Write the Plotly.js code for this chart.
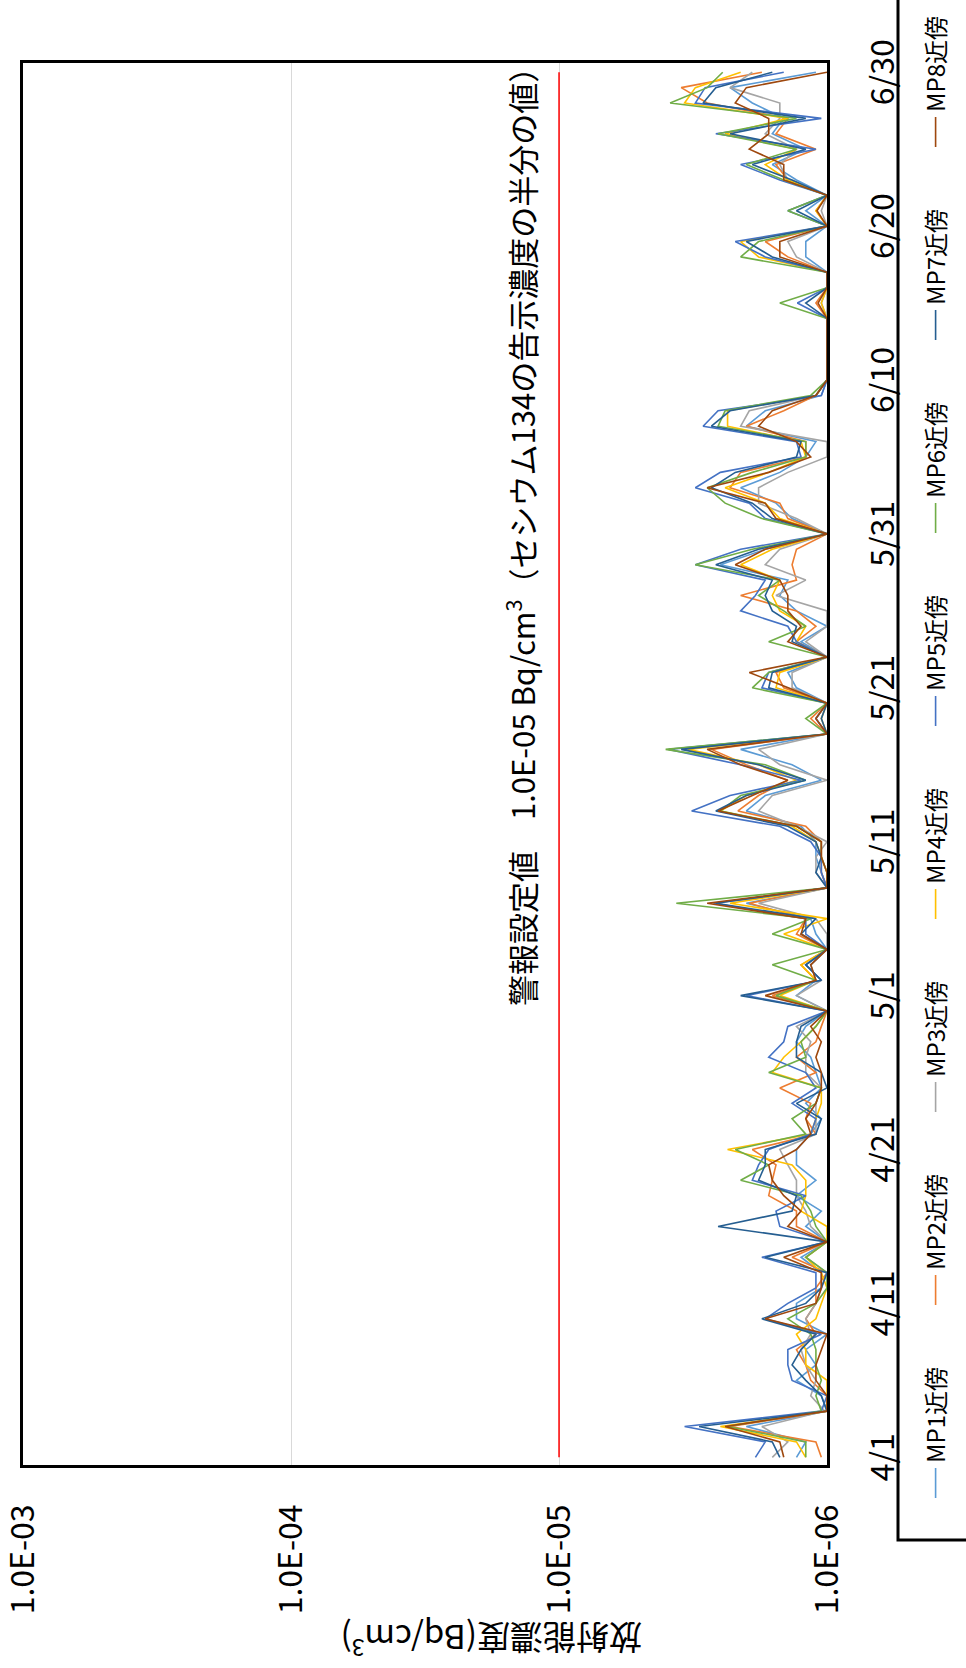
<!DOCTYPE html>
<html>
<head>
<meta charset="utf-8">
<script src="https://cdn.plot.ly/plotly-3.0.1.min.js"></script>
<style>
html,body{margin:0;padding:0;overflow:hidden;background:#fff;width:966px;height:1668px;}
#wrap{position:absolute;left:0;top:0;width:1668px;height:966px;transform-origin:0 0;transform:translateY(1668px) rotate(-90deg);}
</style>
</head>
<body>
<div id="wrap"></div>
<script>
// ---- categories (daily, 4/1 - 6/30) ----
const dates = [
'2021-04-01','2021-04-02','2021-04-03','2021-04-04','2021-04-05','2021-04-06','2021-04-07','2021-04-08','2021-04-09','2021-04-10',
'2021-04-11','2021-04-12','2021-04-13','2021-04-14','2021-04-15','2021-04-16','2021-04-17','2021-04-18','2021-04-19','2021-04-20',
'2021-04-21','2021-04-22','2021-04-23','2021-04-24','2021-04-25','2021-04-26','2021-04-27','2021-04-28','2021-04-29','2021-04-30',
'2021-05-01','2021-05-02','2021-05-03','2021-05-04','2021-05-05','2021-05-06','2021-05-07','2021-05-08','2021-05-09','2021-05-10',
'2021-05-11','2021-05-12','2021-05-13','2021-05-14','2021-05-15','2021-05-16','2021-05-17','2021-05-18','2021-05-19','2021-05-20',
'2021-05-21','2021-05-22','2021-05-23','2021-05-24','2021-05-25','2021-05-26','2021-05-27','2021-05-28','2021-05-29','2021-05-30',
'2021-05-31','2021-06-01','2021-06-02','2021-06-03','2021-06-04','2021-06-05','2021-06-06','2021-06-07','2021-06-08','2021-06-09',
'2021-06-10','2021-06-11','2021-06-12','2021-06-13','2021-06-14','2021-06-15','2021-06-16','2021-06-17','2021-06-18','2021-06-19',
'2021-06-20','2021-06-21','2021-06-22','2021-06-23','2021-06-24','2021-06-25','2021-06-26','2021-06-27','2021-06-28','2021-06-29',
'2021-06-30'];

const xTickVals = ['2021-04-01','2021-04-11','2021-04-21','2021-05-01','2021-05-11','2021-05-21','2021-05-31','2021-06-10','2021-06-20','2021-06-30'];
const xTickText = ['4/1','4/11','4/21','5/1','5/11','5/21','5/31','6/10','6/20','6/30'];
const yTickVals = [1e-6, 1e-5, 1e-4, 1e-3];
const yTickText = ['1.0E-06','1.0E-05','1.0E-04','1.0E-03'];

// ---- series values (Bq/cm3) ----
const MP1 = [1.3e-6,1.2e-6,2.0e-6,1.0e-6,1.05e-6,1.3e-6,1.1e-6,1.2e-6,1.0e-6,1.3e-6,1.3e-6,
1.05e-6,1.05e-6,1.25e-6,1.0e-6,1.2e-6,1.05e-6,1.3e-6,1.1e-6,1.3e-6,1.3e-6,
1.15e-6,1.05e-6,1.2e-6,1.05e-6,1.1e-6,1.15e-6,1.3e-6,1.2e-6,1.0e-6,1.3e-6,
1.1e-6,1.15e-6,1.0e-6,1.1e-6,1.15e-6,2.0e-6,1.0e-6,1.05e-6,1.1e-6,1.1e-6,
1.25e-6,2.0e-6,1.7e-6,1.05e-6,1.35e-6,2.1e-6,1.0e-6,1.1e-6,1.0e-6,1.3e-6,
1.4e-6,1.0e-6,1.25e-6,1.0e-6,1.3e-6,1.5e-6,1.4e-6,2.5e-6,1.7e-6,1.0e-6,
1.35e-6,1.55e-6,2.1e-6,1.5e-6,1.2e-6,1.1e-6,2.0e-6,1.7e-6,1.05e-6,1.0e-6,
1.0e-6,1.0e-6,1.0e-6,1.0e-6,1.05e-6,1.0e-6,1.0e-6,1.2e-6,1.2e-6,1.0e-6,
1.2e-6,1.0e-6,1.3e-6,1.6e-6,1.2e-6,1.6e-6,1.45e-6,1.9e-6,2.3e-6,1.1e-6];

const MP2 = [1.05e-6,1.1e-6,2.3e-6,1.0e-6,1.0e-6,1.15e-6,1.2e-6,1.3e-6,1.1e-6,1.2e-6,1.1e-6,
1.1e-6,1.0e-6,1.35e-6,1.0e-6,1.3e-6,1.3e-6,1.65e-6,1.6e-6,1.55e-6,1.9e-6,
1.1e-6,1.2e-6,1.15e-6,1.5e-6,1.1e-6,1.3e-6,1.1e-6,1.05e-6,1.0e-6,1.6e-6,
1.1e-6,1.25e-6,1.0e-6,1.3e-6,1.2e-6,1.95e-6,1.0e-6,1.05e-6,1.05e-6,1.05e-6,
1.2e-6,2.15e-6,1.8e-6,1.4e-6,2.0e-6,2.7e-6,1.0e-6,1.15e-6,1.0e-6,1.45e-6,
1.55e-6,1.0e-6,1.3e-6,1.1e-6,1.3e-6,2.1e-6,1.3e-6,1.35e-6,1.3e-6,1.0e-6,
1.4e-6,1.5e-6,2.3e-6,2.1e-6,1.2e-6,1.2e-6,2.0e-6,1.45e-6,1.1e-6,1.0e-6,
1.0e-6,1.0e-6,1.0e-6,1.0e-6,1.1e-6,1.0e-6,1.0e-6,1.4e-6,1.7e-6,1.0e-6,
1.1e-6,1.0e-6,1.4e-6,1.55e-6,1.1e-6,1.55e-6,1.4e-6,2.8e-6,3.5e-6,1.75e-6];

const MP3 = [1.6e-6,1.4e-6,1.75e-6,1.02e-6,1.15e-6,1.1e-6,1.2e-6,1.25e-6,1.15e-6,1.2e-6,1.1e-6,
1.05e-6,1.0e-6,1.2e-6,1.0e-6,1.15e-6,1.2e-6,1.3e-6,1.3e-6,1.4e-6,1.5e-6,
1.1e-6,1.1e-6,1.1e-6,1.05e-6,1.2e-6,1.2e-6,1.15e-6,1.3e-6,1.0e-6,1.3e-6,
1.05e-6,1.2e-6,1.0e-6,1.0e-6,1.1e-6,1.8e-6,1.0e-6,1.1e-6,1.1e-6,1.0e-6,
1.3e-6,1.8e-6,1.6e-6,1.0e-6,1.5e-6,1.8e-6,1.0e-6,1.1e-6,1.0e-6,1.35e-6,
1.35e-6,1.0e-6,1.2e-6,1.0e-6,1.0e-6,1.55e-6,1.2e-6,1.7e-6,1.5e-6,1.0e-6,
1.3e-6,1.8e-6,1.8e-6,1.4e-6,1.0e-6,1.0e-6,2.1e-6,1.95e-6,1.1e-6,1.0e-6,
1.0e-6,1.0e-6,1.0e-6,1.0e-6,1.0e-6,1.0e-6,1.0e-6,1.3e-6,1.4e-6,1.0e-6,
1.05e-6,1.0e-6,1.4e-6,1.5e-6,1.3e-6,1.7e-6,1.5e-6,1.5e-6,2.3e-6,1.9e-6];

const MP4 = [1.2e-6,1.3e-6,2.5e-6,1.0e-6,1.0e-6,1.0e-6,1.2e-6,1.2e-6,1.3e-6,1.1e-6,1.05e-6,
1.0e-6,1.05e-6,1.2e-6,1.0e-6,1.0e-6,1.25e-6,1.2e-6,1.2e-6,1.35e-6,2.35e-6,
1.15e-6,1.1e-6,1.05e-6,1.05e-6,1.6e-6,1.45e-6,1.25e-6,1.1e-6,1.0e-6,1.5e-6,
1.1e-6,1.25e-6,1.0e-6,1.45e-6,1.0e-6,2.3e-6,1.0e-6,1.0e-6,1.05e-6,1.1e-6,
1.35e-6,2.5e-6,2.0e-6,1.3e-6,1.8e-6,3.3e-6,1.0e-6,1.05e-6,1.0e-6,1.55e-6,
1.5e-6,1.0e-6,1.3e-6,1.2e-6,1.5e-6,1.6e-6,1.5e-6,2.1e-6,1.6e-6,1.0e-6,
1.5e-6,1.7e-6,2.4e-6,1.65e-6,1.2e-6,1.25e-6,2.35e-6,2.35e-6,1.1e-6,1.0e-6,
1.0e-6,1.0e-6,1.0e-6,1.0e-6,1.05e-6,1.0e-6,1.0e-6,1.8e-6,2.1e-6,1.0e-6,
1.1e-6,1.0e-6,1.4e-6,1.7e-6,1.3e-6,2.4e-6,1.4e-6,3.4e-6,3.1e-6,2.1e-6];

const MP5 = [1.85e-6,1.7e-6,3.4e-6,1.05e-6,1.0e-6,1.35e-6,1.4e-6,1.4e-6,1.05e-6,1.7e-6,1.4e-6,
1.1e-6,1.1e-6,1.75e-6,1.0e-6,1.5e-6,1.55e-6,1.2e-6,1.9e-6,1.8e-6,1.65e-6,
1.15e-6,1.1e-6,1.35e-6,1.1e-6,1.2e-6,1.65e-6,1.45e-6,1.4e-6,1.0e-6,2.0e-6,
1.05e-6,1.2e-6,1.0e-6,1.2e-6,1.2e-6,2.65e-6,1.0e-6,1.05e-6,1.05e-6,1.15e-6,
1.5e-6,3.2e-6,2.3e-6,1.25e-6,2.1e-6,3.9e-6,1.0e-6,1.1e-6,1.0e-6,1.75e-6,
1.65e-6,1.0e-6,1.3e-6,1.4e-6,2.1e-6,1.85e-6,1.7e-6,3.1e-6,2.1e-6,1.0e-6,
1.7e-6,1.95e-6,3.1e-6,2.5e-6,1.25e-6,1.3e-6,2.9e-6,2.55e-6,1.05e-6,1.0e-6,
1.0e-6,1.0e-6,1.0e-6,1.0e-6,1.29e-6,1.0e-6,1.0e-6,1.7e-6,2.2e-6,1.0e-6,
1.4e-6,1.0e-6,1.5e-6,2.1e-6,1.1e-6,2.6e-6,1.05e-6,3.1e-6,2.85e-6,1.45e-6];

const MP6 = [1.2e-6,1.2e-6,2.35e-6,1.05e-6,1.1e-6,1.05e-6,1.1e-6,1.1e-6,1.15e-6,1.4e-6,1.1e-6,
1.0e-6,1.0e-6,1.2e-6,1.0e-6,1.1e-6,1.15e-6,1.25e-6,2.1e-6,1.65e-6,2.2e-6,
1.2e-6,1.35e-6,1.1e-6,1.05e-6,1.65e-6,1.2e-6,1.25e-6,1.1e-6,1.0e-6,1.55e-6,
1.1e-6,1.6e-6,1.0e-6,1.6e-6,1.15e-6,3.65e-6,1.0e-6,1.0e-6,1.05e-6,1.05e-6,
1.3e-6,2.5e-6,2.1e-6,1.2e-6,1.7e-6,4.0e-6,1.0e-6,1.2e-6,1.0e-6,1.9e-6,
1.65e-6,1.0e-6,1.65e-6,1.2e-6,1.45e-6,1.8e-6,1.5e-6,3.1e-6,1.9e-6,1.0e-6,
1.75e-6,2.4e-6,2.8e-6,1.9e-6,1.2e-6,1.2e-6,2.55e-6,2.4e-6,1.15e-6,1.0e-6,
1.0e-6,1.0e-6,1.0e-6,1.0e-6,1.5e-6,1.0e-6,1.0e-6,2.1e-6,1.8e-6,1.0e-6,
1.4e-6,1.0e-6,1.45e-6,2.0e-6,1.3e-6,2.55e-6,1.3e-6,3.85e-6,2.8e-6,2.45e-6];

const MP7 = [1.5e-6,1.6e-6,3.0e-6,1.0e-6,1.05e-6,1.2e-6,1.35e-6,1.25e-6,1.1e-6,1.75e-6,1.2e-6,
1.05e-6,1.0e-6,1.7e-6,1.0e-6,2.55e-6,1.35e-6,1.3e-6,1.8e-6,1.7e-6,1.7e-6,
1.1e-6,1.05e-6,1.3e-6,1.0e-6,1.05e-6,1.3e-6,1.3e-6,1.25e-6,1.0e-6,2.1e-6,
1.05e-6,1.2e-6,1.0e-6,1.25e-6,1.1e-6,2.6e-6,1.0e-6,1.1e-6,1.05e-6,1.1e-6,
1.4e-6,2.6e-6,2.0e-6,1.2e-6,1.8e-6,3.5e-6,1.0e-6,1.05e-6,1.0e-6,1.65e-6,
1.6e-6,1.0e-6,1.35e-6,1.3e-6,1.6e-6,1.7e-6,1.6e-6,2.6e-6,1.8e-6,1.0e-6,
1.6e-6,1.9e-6,2.7e-6,2.2e-6,1.3e-6,1.25e-6,2.7e-6,2.3e-6,1.1e-6,1.0e-6,
1.0e-6,1.0e-6,1.0e-6,1.0e-6,1.2e-6,1.0e-6,1.0e-6,1.6e-6,2.0e-6,1.0e-6,
1.3e-6,1.0e-6,1.35e-6,1.9e-6,1.2e-6,2.3e-6,1.2e-6,2.9e-6,2.6e-6,1.6e-6];

const MP8 = [1.45e-6,1.5e-6,2.4e-6,1.0e-6,1.0e-6,1.1e-6,1.1e-6,1.05e-6,1.0e-6,1.7e-6,1.1e-6,
1.05e-6,1.05e-6,1.45e-6,1.0e-6,1.4e-6,1.25e-6,1.45e-6,1.6e-6,1.65e-6,1.3e-6,
1.15e-6,1.2e-6,1.1e-6,1.05e-6,1.05e-6,1.1e-6,1.05e-6,1.15e-6,1.0e-6,1.7e-6,
1.1e-6,1.15e-6,1.0e-6,1.25e-6,1.2e-6,2.8e-6,1.0e-6,1.0e-6,1.05e-6,1.05e-6,
1.3e-6,2.55e-6,1.9e-6,1.4e-6,2.1e-6,2.8e-6,1.0e-6,1.1e-6,1.0e-6,1.4e-6,
1.95e-6,1.0e-6,1.4e-6,1.25e-6,1.4e-6,1.4e-6,1.5e-6,2.2e-6,1.7e-6,1.0e-6,
1.55e-6,1.7e-6,2.8e-6,1.65e-6,1.15e-6,1.3e-6,1.8e-6,1.6e-6,1.1e-6,1.0e-6,
1.0e-6,1.0e-6,1.0e-6,1.0e-6,1.08e-6,1.0e-6,1.0e-6,1.5e-6,1.5e-6,1.0e-6,
1.09e-6,1.0e-6,1.45e-6,1.45e-6,1.95e-6,1.65e-6,1.65e-6,2.2e-6,2.0e-6,1.0e-6];

// alarm level line (1.0E-05 Bq/cm3) over the period
const alarmX = ['2021-04-01', '2021-06-30'];
const alarmY = [1e-5, 1e-5];

const seriesNames = ['MP1近傍','MP2近傍','MP3近傍','MP4近傍','MP5近傍','MP6近傍','MP7近傍','MP8近傍'];
const seriesColors = ['#5B9BD5','#ED7D31','#A5A5A5','#FFC000','#4472C4','#70AD47','#255E91','#9E480E'];
const seriesValues = [MP1, MP2, MP3, MP4, MP5, MP6, MP7, MP8];

const FONT = '"Noto Sans CJK JP", "DejaVu Sans", sans-serif';

const traces = [{
  x: alarmX, y: alarmY, type: 'scatter', mode: 'lines',
  line: {color: '#FF0000', width: 1.5}, showlegend: false, hoverinfo: 'skip'
}];
seriesValues.forEach((vals, i) => {
  traces.push({
    x: dates, y: vals, type: 'scatter', mode: 'lines', name: seriesNames[i],
    line: {color: seriesColors[i], width: 1.6}
  });
});

const layout = {
  width: 1668, height: 966,
  margin: {l: 203, r: 63, t: 23, b: 139, autoexpand: false},
  paper_bgcolor: '#ffffff', plot_bgcolor: '#ffffff',
  font: {family: FONT, color: '#000000'},
  xaxis: {
    type: 'date', range: ['2021-03-31 12:00', '2021-06-30 14:24'],
    tickmode: 'array', tickvals: xTickVals, ticktext: xTickText,
    showgrid: false, zeroline: false,
    showline: true, linecolor: '#000000', linewidth: 3, mirror: true,
    ticks: '', ticklabelstandoff: 26, ticklabeloverflow: 'allow',
    tickfont: {size: 32, family: FONT, color: '#000'}
  },
  yaxis: {
    type: 'log', range: [-6, -2.9995],
    tickmode: 'array', tickvals: yTickVals, ticktext: yTickText,
    showgrid: true, gridcolor: '#d9d9d9', gridwidth: 1, zeroline: false,
    showline: true, linecolor: '#000000', linewidth: 3, mirror: true,
    ticks: '', ticklabelstandoff: 30, ticklabeloverflow: 'allow',
    tickfont: {size: 32, family: FONT, color: '#000'}
  },
  showlegend: true,
  legend: {
    orientation: 'h', x: (165 - 203) / 1402, xanchor: 'left',
    y: (827 - 936) / 804, yanchor: 'middle',
    font: {size: 24, family: FONT, color: '#000'},
    entrywidth: 148, entrywidthmode: 'pixels',
    bgcolor: 'rgba(0,0,0,0)', borderwidth: 0, traceorder: 'normal'
  },
  shapes: [{
    type: 'rect', xref: 'paper', yref: 'paper',
    x0: (128 - 203) / 1402, x1: 1.1, y0: (827 - 898) / 804, y1: -0.3,
    line: {color: '#000000', width: 3}, fillcolor: 'rgba(0,0,0,0)', layer: 'above'
  }],
  annotations: [{
    xref: 'paper', yref: 'paper', x: (1618 - 203) / 1402, y: (827 - 520) / 804,
    xanchor: 'right', yanchor: 'middle', showarrow: false,
    text: '警報設定値　1.0E-05 Bq/cm<sup>3</sup>（セシウム134の告示濃度の半分の値）',
    font: {size: 31, family: FONT, color: '#000'}
  }, {
    xref: 'paper', yref: 'paper', x: (28 - 203) / 1402, y: (827 - 492) / 804,
    xanchor: 'center', yanchor: 'middle', showarrow: false, textangle: -90,
    text: '放射能濃度(Bq/cm<sup>3</sup>)',
    font: {size: 33, family: FONT, color: '#000'}
  }]
};

Plotly.newPlot('wrap', traces, layout, {displayModeBar: false, staticPlot: true});
</script>
</body>
</html>
